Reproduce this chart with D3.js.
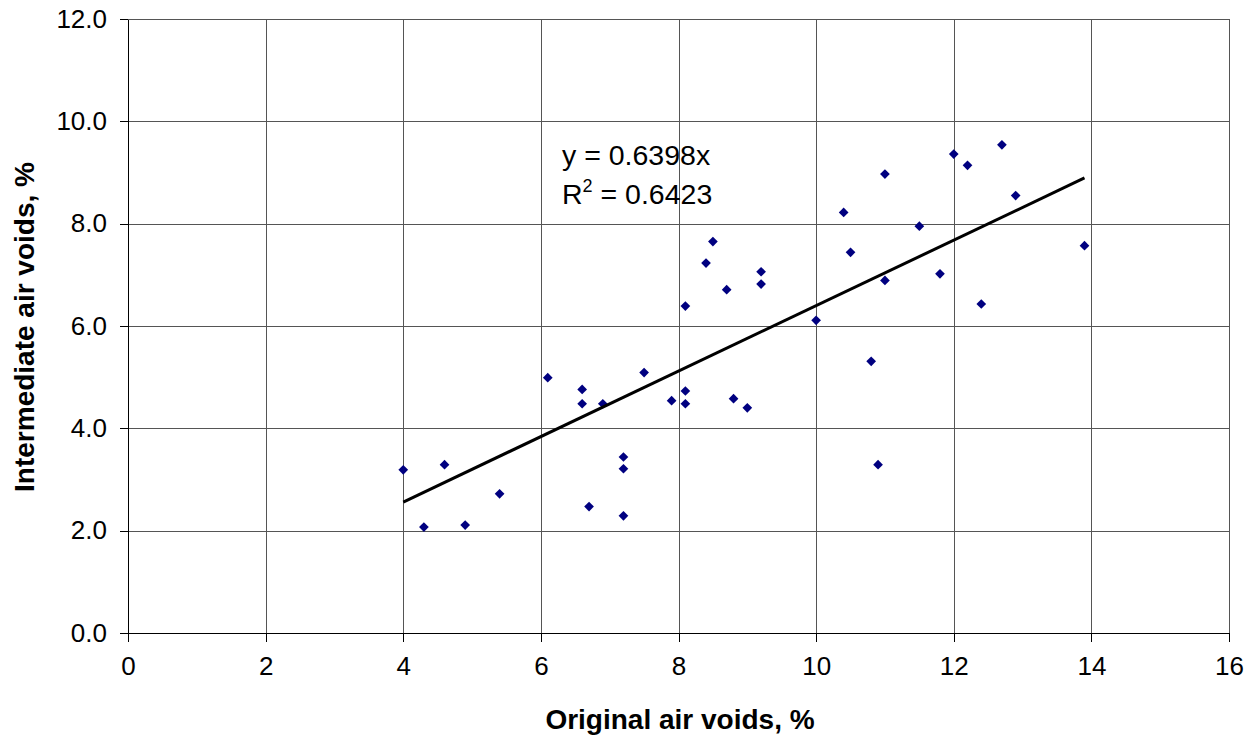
<!DOCTYPE html>
<html>
<head>
<meta charset="utf-8">
<script src="https://cdn.jsdelivr.net/npm/d3@7"></script>
<style>
  html, body { margin: 0; padding: 0; background: #fff; }
  #chart { width: 1255px; height: 738px; }
  text { font-family: "Liberation Sans", Arial, sans-serif; fill: #000; }
</style>
</head>
<body>
<div id="chart"></div>
<script>
'use strict';

const MARGIN = { top: 19, right: 26, bottom: 105, left: 128 };

const ORIGINAL_VOIDS = [
  4.0, 4.3, 4.6, 4.9, 5.4, 6.1, 6.6, 6.6, 6.7, 6.9,
  7.2, 7.2, 7.2, 7.5, 7.9, 8.1, 8.1, 8.1, 8.4, 8.5,
  8.7, 8.8, 9.0, 9.2, 9.2, 10.0, 10.4, 10.5, 10.8, 10.9,
  11.0, 11.0, 11.5, 11.8, 12.0, 12.2, 12.4, 12.7, 12.9, 13.9
];
const INTERMEDIATE_VOIDS = [
  3.19, 2.07, 3.29, 2.11, 2.72, 4.99, 4.76, 4.48, 2.47, 4.48,
  3.44, 3.21, 2.29, 5.09, 4.54, 6.39, 4.73, 4.48, 7.23, 7.65,
  6.71, 4.58, 4.40, 7.06, 6.82, 6.11, 8.22, 7.44, 5.31, 3.29,
  8.97, 6.89, 7.95, 7.02, 9.36, 9.14, 6.43, 9.54, 8.55, 7.57
];

const X_TICKS = [0, 2, 4, 6, 8, 10, 12, 14, 16];
const Y_TICKS = [0, 2, 4, 6, 8, 10, 12];

const TREND_SLOPE = 0.6398;
const TREND_R2 = '0.6423';

const points = ORIGINAL_VOIDS.map((x, i) => ({ x, y: INTERMEDIATE_VOIDS[i] }));

const W = 1255, H = 738;
const w = W - MARGIN.left - MARGIN.right;
const h = H - MARGIN.top - MARGIN.bottom;

const x = d3.scaleLinear().domain([0, 16]).range([0, w]);
const y = d3.scaleLinear().domain([0, 12]).range([h, 0]);

const svg = d3.select('#chart').append('svg')
  .attr('width', W).attr('height', H);

const g = svg.append('g')
  .attr('transform', `translate(${MARGIN.left},${MARGIN.top})`);

// Grid
g.append('g')
  .attr('transform', `translate(0,${h})`)
  .call(d3.axisBottom(x).tickValues(X_TICKS).tickSize(-h).tickFormat(''))
  .call(s => s.select('.domain').remove())
  .call(s => s.selectAll('line').attr('stroke', '#555').attr('shape-rendering', 'crispEdges'));

g.append('g')
  .call(d3.axisLeft(y).tickValues(Y_TICKS).tickSize(-w).tickFormat(''))
  .call(s => s.select('.domain').remove())
  .call(s => s.selectAll('line').attr('stroke', '#555').attr('shape-rendering', 'crispEdges'));

// Axes
g.append('g')
  .attr('transform', `translate(0,${h})`)
  .call(d3.axisBottom(x).tickValues(X_TICKS).tickSizeInner(9).tickSizeOuter(0).tickPadding(15).tickFormat(d3.format('d')))
  .call(s => s.selectAll('line, path').attr('stroke', '#000').attr('shape-rendering', 'crispEdges'))
  .call(s => s.selectAll('text').attr('font-size', '26px').attr('font-family', '"Liberation Sans", Arial, sans-serif'));

g.append('g')
  .call(d3.axisLeft(y).tickValues(Y_TICKS).tickSizeInner(8).tickSizeOuter(0).tickPadding(13).tickFormat(d3.format('.1f')))
  .call(s => s.selectAll('line, path').attr('stroke', '#000').attr('shape-rendering', 'crispEdges'))
  .call(s => s.selectAll('text').attr('font-size', '26px').attr('font-family', '"Liberation Sans", Arial, sans-serif'));

// Axis titles
svg.append('text')
  .attr('x', 680).attr('y', 729)
  .attr('text-anchor', 'middle')
  .attr('font-size', '28px').attr('font-weight', 'bold')
  .text('Original air voids, %');

svg.append('text')
  .attr('transform', 'translate(34,327) rotate(-90)')
  .attr('text-anchor', 'middle')
  .attr('font-size', '28px').attr('font-weight', 'bold')
  .text('Intermediate air voids, %');

// Points
const diamond = d3.symbol().type(d3.symbolDiamond2).size(60);
g.append('g')
  .selectAll('path')
  .data(points)
  .join('path')
  .attr('d', diamond)
  .attr('transform', d => `translate(${x(d.x)},${y(d.y)})`)
  .attr('fill', '#000080');

// Trend line
const xMin = d3.min(ORIGINAL_VOIDS), xMax = d3.max(ORIGINAL_VOIDS);
g.append('line')
  .attr('x1', x(xMin)).attr('y1', y(TREND_SLOPE * xMin))
  .attr('x2', x(xMax)).attr('y2', y(TREND_SLOPE * xMax))
  .attr('stroke', '#000').attr('stroke-width', 3);

// Equation label
svg.append('text').attr('font-size', '28.5px')
  .attr('x', 562).attr('y', 165)
  .text(`y = ${TREND_SLOPE}x`);
const r2 = svg.append('text').attr('font-size', '28.5px').attr('x', 562).attr('y', 204);
r2.append('tspan').text('R');
r2.append('tspan').attr('font-size', '18px').attr('dy', -12).text('2');
r2.append('tspan').attr('dy', 12).text(` = ${TREND_R2}`);
</script>
</body>
</html>
